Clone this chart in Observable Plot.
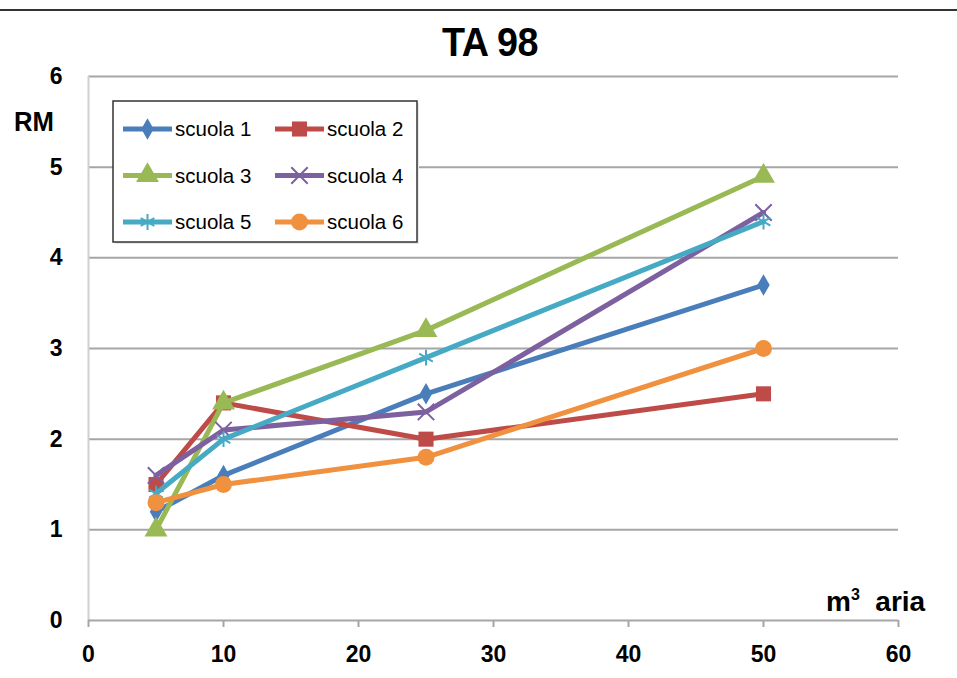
<!DOCTYPE html>
<html>
<head>
<meta charset="utf-8">
<script src="https://cdn.jsdelivr.net/npm/d3@7"></script>
<script src="https://cdn.jsdelivr.net/npm/@observablehq/plot@0.6"></script>
<style>
  body { margin: 0; background: #fff; font-family: "Liberation Sans", Arial, sans-serif; }
  #wrap { position: relative; width: 957px; height: 678px; overflow: hidden; }
  #wrap > * { position: absolute; }
  .lbl { font-weight: bold; color: #000; white-space: nowrap; }
</style>
</head>
<body>
<div id="wrap"></div>
<script>
// ---- data ----
const xValues = [5, 10, 25, 50];
const seriesNames = ["scuola 1", "scuola 2", "scuola 3", "scuola 4", "scuola 5", "scuola 6"];
const scuola1 = [1.2, 1.6, 2.5, 3.7];
const scuola2 = [1.5, 2.4, 2.0, 2.5];
const scuola3 = [1.0, 2.4, 3.2, 4.9];
const scuola4 = [1.6, 2.1, 2.3, 4.5];
const scuola5 = [1.4, 2.0, 2.9, 4.4];
const scuola6 = [1.3, 1.5, 1.8, 3.0];
const xTicks = [0, 10, 20, 30, 40, 50, 60];
const yTicks = [0, 1, 2, 3, 4, 5, 6];

const seriesValues = [scuola1, scuola2, scuola3, scuola4, scuola5, scuola6];
const colors = ["#4a7ebb", "#be4b48", "#98b954", "#7d60a0", "#46aac5", "#f0913f"];
const symbols = ["diamond", "square", "triangle", "times", "asterisk", "circle"];
const radii = [6.5, 8.5, 8.5, 7.5, 7.5, 8.5];

const rows = seriesNames.flatMap((s, i) => xValues.map((x, j) => ({serie: s, idx: i, x, y: seriesValues[i][j]})));

const seriesMarks = seriesNames.flatMap((s, i) => {
  const d = rows.filter(r => r.serie === s);
  const filled = !(symbols[i] === "times" || symbols[i] === "asterisk");
  return [
    Plot.line(d, {x: "x", y: "y", stroke: colors[i], strokeWidth: 5}),
    Plot.dot(d, filled
      ? {x: "x", y: "y", symbol: () => symbols[i], r: radii[i], fill: colors[i], stroke: "none"}
      : {x: "x", y: "y", symbol: () => symbols[i], r: radii[i], fill: "none", stroke: colors[i], strokeWidth: 2})
  ];
});

const chart = Plot.plot({
  width: 957,
  height: 678,
  marginLeft: 88,
  marginRight: 59,
  marginTop: 76,
  marginBottom: 58,
  style: {fontFamily: "Liberation Sans, Arial, sans-serif", background: "transparent"},
  x: {domain: [0, 60]},
  y: {domain: [0, 6]},
  symbol: {type: "identity"},
  marks: [
    Plot.ruleY(yTicks.filter(v => v > 0), {stroke: "#a6a6a6", strokeWidth: 2}),
    Plot.ruleX([0], {stroke: "#d0d0d0", strokeWidth: 2}),
    Plot.ruleY([0], {stroke: "#a6a6a6", strokeWidth: 2}),
    Plot.axisX({ticks: xTicks, tickFormat: d3.format("d"), tickSize: 7, tickPadding: 18, stroke: "#a6a6a6", strokeWidth: 2, fontSize: 23, fontWeight: "bold", fill: "#000", label: null}),
    Plot.axisY({ticks: yTicks, tickFormat: d3.format("d"), tickSize: 0, tickPadding: 26, fontSize: 23, fontWeight: "bold", fill: "#000", label: null}),
    ...seriesMarks
  ]
});

const wrap = document.getElementById("wrap");
chart.style.left = "0px";
chart.style.top = "0px";
wrap.appendChild(chart);

// top rule
const topLine = document.createElement("div");
Object.assign(topLine.style, {left: "0px", top: "9px", width: "957px", height: "2px", background: "#333"});
wrap.appendChild(topLine);

// title
const title = document.createElement("div");
title.className = "lbl";
title.textContent = "TA 98";
Object.assign(title.style, {left: "0px", width: "980px", textAlign: "center", top: "19px", fontSize: "41px", letterSpacing: "-0.5px", transform: "scaleX(0.92)", transformOrigin: "490px 0"});
wrap.appendChild(title);

// y label
const yl = document.createElement("div");
yl.className = "lbl";
yl.textContent = "RM";
Object.assign(yl.style, {left: "14px", top: "107px", fontSize: "27px", transform: "scaleX(0.95)", transformOrigin: "0 0"});
wrap.appendChild(yl);

// x label
const xl = document.createElement("div");
xl.className = "lbl";
xl.innerHTML = "m<sup style=\"font-size:16px;vertical-align:11px\">3</sup>&nbsp;&nbsp;aria";
Object.assign(xl.style, {left: "826px", top: "586px", fontSize: "28px"});
wrap.appendChild(xl);

// legend
const lg = d3.create("svg").attr("width", 320).attr("height", 160)
  .style("left", "108px").style("top", "96px");
lg.append("rect").attr("x", 7).attr("y", 7).attr("width", 304).attr("height", 141).attr("fill", "#e8e8e8");
lg.append("rect").attr("x", 5).attr("y", 5).attr("width", 304).attr("height", 141)
  .attr("fill", "#fff").attr("stroke", "#333").attr("stroke-width", 1.5);
const symMap = {diamond: d3.symbolDiamond, square: d3.symbolSquare, triangle: d3.symbolTriangle, times: d3.symbolTimes, asterisk: d3.symbolAsterisk, circle: d3.symbolCircle};
seriesNames.forEach((s, i) => {
  const col = i % 2, row = Math.floor(i / 2);
  const x0 = col === 0 ? 15 : 167;
  const y0 = 33 + row * 46.5;
  const g = lg.append("g");
  g.append("line").attr("x1", x0).attr("x2", x0 + 49).attr("y1", y0).attr("y2", y0)
    .attr("stroke", colors[i]).attr("stroke-width", 5);
  const filled = !(symbols[i] === "times" || symbols[i] === "asterisk");
  const r = radii[i];
  g.append("path").attr("d", d3.symbol(symMap[symbols[i]], r * r * Math.PI)())
    .attr("transform", `translate(${x0 + 24.5},${y0})`)
    .attr("fill", filled ? colors[i] : "none")
    .attr("stroke", filled ? "none" : colors[i]).attr("stroke-width", 2);
  g.append("text").attr("x", x0 + 52).attr("y", y0 + 7).text(s)
    .attr("font-family", "Liberation Sans, Arial, sans-serif").attr("font-size", 20.5).attr("fill", "#000");
});
wrap.appendChild(lg.node());
</script>
</body>
</html>
